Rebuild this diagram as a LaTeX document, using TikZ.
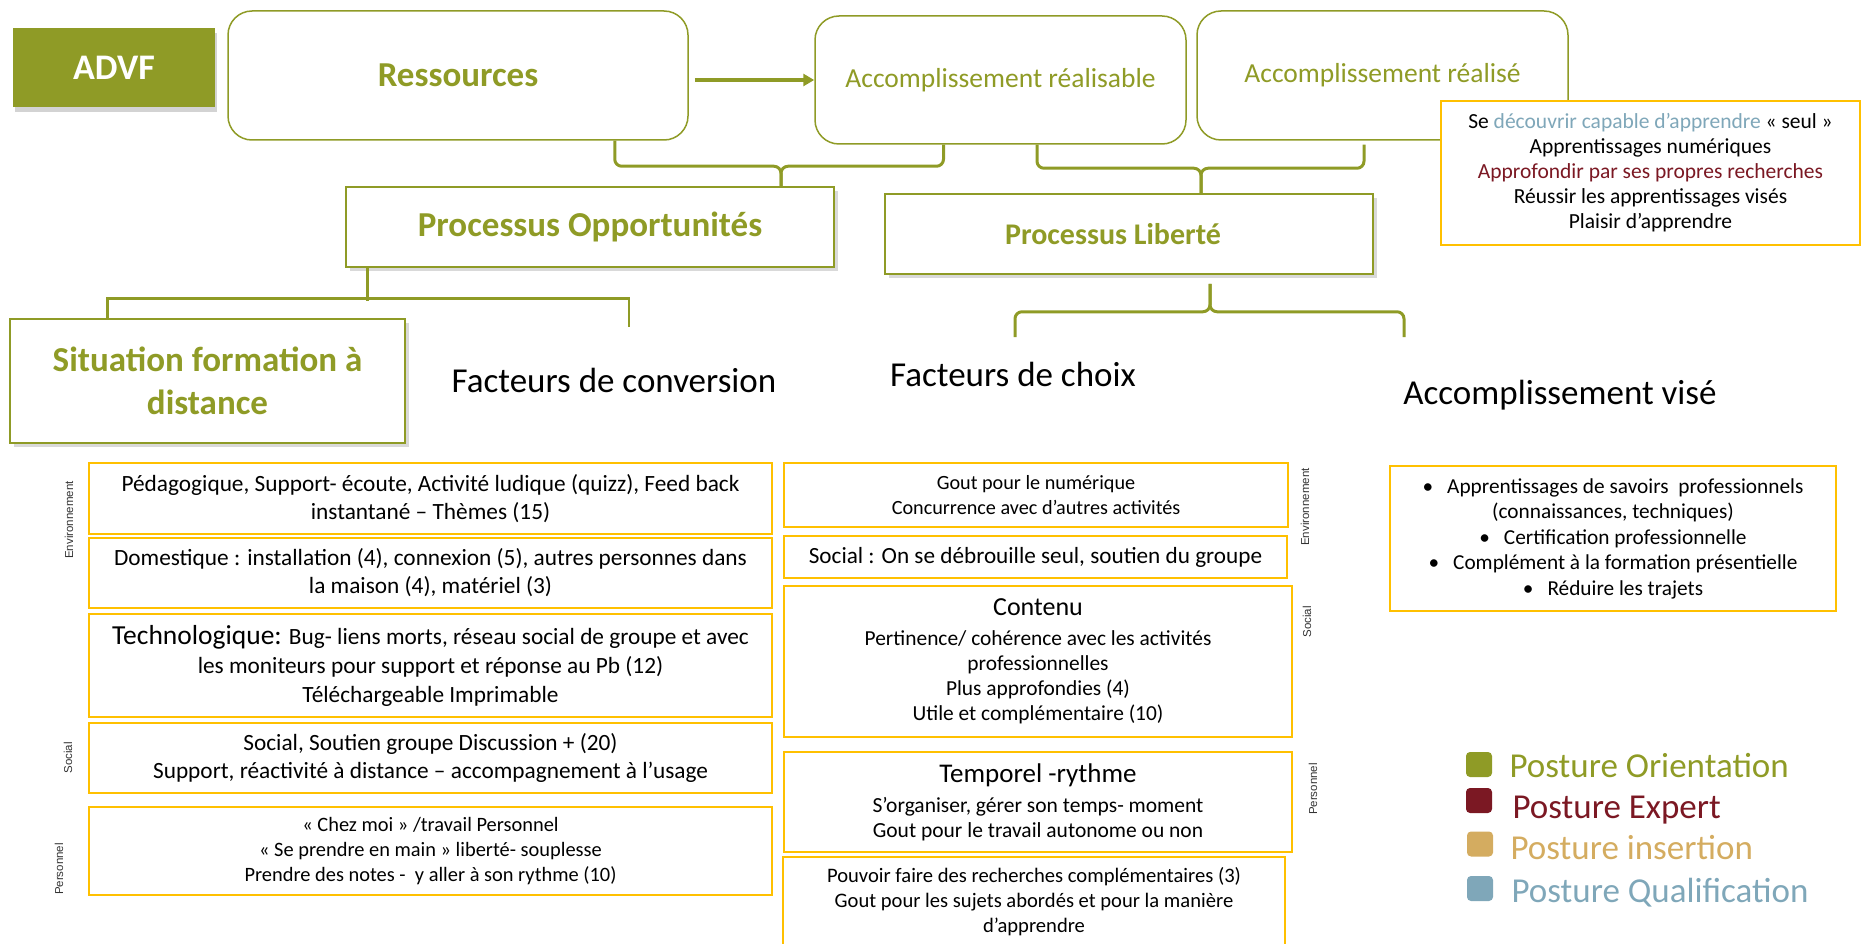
\documentclass[tikz,border=0pt]{standalone}
\usepackage{fontspec}
\setmainfont{Carlito}
\newfontfamily\labfont{Liberation Sans}
\usetikzlibrary{shadows,arrows.meta}
\definecolor{advgreen}{RGB}{143,155,38}
\definecolor{boxyellow}{RGB}{255,192,0}
\definecolor{qualblue}{RGB}{127,167,185}
\definecolor{expertred}{RGB}{123,24,35}
\definecolor{inserttan}{RGB}{212,172,96}
\tikzstyle{advf} = [rectangle, minimum width=202pt, minimum height=79pt, fill=advgreen, text=white, font=\fontsize{36}{40}\selectfont\bfseries, drop shadow={shadow xshift=2pt, shadow yshift=-5pt, opacity=0.35}]
\tikzstyle{capbox} = [rectangle, rounded corners=24pt, draw=advgreen, line width=1.5pt, fill=white, text=advgreen]
\tikzstyle{proc} = [rectangle, draw=advgreen, line width=1.5pt, fill=white, text=advgreen, align=center, font=\fontsize{35}{43}\selectfont\bfseries, drop shadow={shadow xshift=4pt, shadow yshift=-4pt, opacity=0.3}]
\tikzstyle{fact} = [rectangle, draw=boxyellow, line width=2pt, fill=white, align=center, inner sep=0pt]
\tikzstyle{sidelab} = [rotate=90, font=\labfont\fontsize{11.5}{13}\selectfont, text=black!80]
\tikzstyle{heading} = [anchor=base, font=\fontsize{35}{40}\selectfont]
\tikzstyle{brace} = [draw=advgreen, line width=3pt, rounded corners=7pt]
\tikzstyle{bracket} = [draw=advgreen, line width=2.5pt]
\tikzstyle{arrow} = [draw=advgreen, line width=4pt, -{Triangle[length=11pt,width=12pt]}]
\tikzstyle{legbox} = [rectangle, rounded corners=4pt, minimum width=26pt, minimum height=25pt, inner sep=0pt]
\tikzstyle{legtext} = [anchor=base west, font=\fontsize{35}{40}\selectfont]

\begin{document}
\begin{tikzpicture}[x=1pt, y=-1pt]
      \useasboundingbox (0,0) rectangle (1869,944);
      % top row
      \node (advf)[advf] at (114,67.5) {ADVF};
      \node (res)[capbox, minimum width=460pt, minimum height=129pt, font=\fontsize{35}{40}\selectfont\bfseries] at (458,75.5) {Ressources};
      \node (real)[capbox, minimum width=371pt, minimum height=128pt, font=\fontsize{27.5}{32}\selectfont] at (1000.5,80) {Accomplissement réalisable};
      \node (reai)[capbox, minimum width=371pt, minimum height=129pt, font=\fontsize{27.5}{32}\selectfont] at (1382.5,75.5) {Accomplissement réalisé};
      \node (plaisir)[fact, minimum width=419pt, minimum height=144pt, font=\fontsize{21.5}{25}\selectfont] at (1650.5,173) {Se {\color{qualblue}découvrir capable d’apprendre} « seul »\\ Apprentissages numériques\\ {\color{expertred}Approfondir par ses propres recherches}\\ Réussir les apprentissages visés\\ Plaisir d’apprendre};
      \draw[arrow, shorten <=6pt] (res.east |- real.west) -- (real.west);
      % processus
      \node (opp)[proc, minimum width=488pt, minimum height=80pt] at (590,227) {Processus Opportunités};
      \node (lib)[proc, minimum width=488pt, minimum height=80pt, font=\fontsize{30}{36}\selectfont\bfseries] at (1129,234) {\hspace*{-32pt}Processus Liberté};
      \node (sit)[proc, minimum width=395pt, minimum height=124pt] at (207.5,381) {Situation formation à\\distance};
      \draw[brace] ([xshift=-74pt]res.south east) |- ([xshift=191pt,yshift=20pt]opp.north) -- ([xshift=191pt]opp.north);
      \draw[brace] ([xshift=-57pt]real.south) |- ([xshift=191pt,yshift=20pt]opp.north) -- ([xshift=191pt]opp.north);
      \draw[brace] ([xshift=36.5pt]real.south) |- ([xshift=72pt,yshift=25pt]lib.north) -- ([xshift=72pt]lib.north);
      \draw[brace] ([xshift=-18.5pt,yshift=-4pt]reai.south) |- ([xshift=72pt,yshift=25pt]lib.north) -- ([xshift=72pt]lib.north);
      \draw[bracket] ([xshift=22pt]opp.south west) -- ++(0,33);
      \coordinate (convtop) at (629,327);
      \draw[bracket] ([xshift=98pt]sit.north west) |- ++(260,-20) -| (convtop);
      \coordinate (choixtop) at (1015,337);
      \coordinate (visetop) at (1404,337);
      \draw[brace] (choixtop) |- ([xshift=81pt,yshift=-37pt]lib.south) -- ([xshift=81pt,yshift=-9pt]lib.south);
      \draw[brace] (visetop) |- ([xshift=81pt,yshift=-37pt]lib.south) -- ([xshift=81pt,yshift=-9pt]lib.south);
      % headings
      \node (conv)[heading] at (614,392) {Facteurs de conversion};
      \node (choix)[heading] at (1013,386) {Facteurs de choix};
      \node (vise)[heading] at (1560,404) {Accomplissement visé};
      % facteurs de conversion
      \node (pedag)[fact, minimum width=683pt, minimum height=71pt, font=\fontsize{23.3}{28}\selectfont] at (430.5,498.5) {Pédagogique, Support- écoute, Activité ludique (quizz), Feed back\\ instantané – Thèmes (15)};
      \node (domes)[fact, minimum width=683pt, minimum height=70pt, font=\fontsize{23.3}{28}\selectfont] at (430.5,573) {Domestique : installation (4), connexion (5), autres personnes dans\\ la maison (4), matériel (3)};
      \node (techno)[fact, minimum width=683pt, minimum height=103pt, font=\fontsize{23.3}{29}\selectfont] at (430.5,665.5) {{\fontsize{27.5}{29}\selectfont Technologique:} Bug- liens morts, réseau social de groupe et avec\\ les moniteurs pour support et réponse au Pb (12)\\ Téléchargeable Imprimable};
      \node (socconv)[fact, minimum width=683pt, minimum height=70pt, font=\fontsize{23.3}{28}\selectfont] at (430.5,758) {Social, Soutien groupe Discussion + (20)\\ Support, réactivité à distance – accompagnement à l’usage};
      \node (perso)[fact, minimum width=683pt, minimum height=88pt, font=\fontsize{20.4}{25}\selectfont] at (430.5,851) {« Chez moi » /travail Personnel\\ « Se prendre en main » liberté- souplesse\\ Prendre des notes -\ \ y aller à son rythme (10)};
      \node (envl)[sidelab] at (69,520) {Environnement};
      \node (socl)[sidelab] at (68,758) {Social};
      \node (persl)[sidelab] at (59,869) {Personnel};
      % facteurs de choix
      \node (gout)[fact, minimum width=504pt, minimum height=64pt, font=\fontsize{20.2}{25}\selectfont] at (1036,495) {Gout pour le numérique\\ Concurrence avec d’autres activités};
      \node (debr)[fact, minimum width=503pt, minimum height=42pt, font=\fontsize{23.2}{26}\selectfont] at (1035.5,557) {Social : On se débrouille seul, soutien du groupe};
      \node (contenu)[fact, minimum width=508pt, minimum height=151pt, font=\fontsize{21.4}{25}\selectfont] at (1038,661.5) {{\fontsize{26}{30}\selectfont Contenu}\\[5pt] Pertinence/ cohérence avec les activités\\ professionnelles\\ Plus approfondies (4)\\ Utile et complémentaire (10)};
      \node (tempo)[fact, minimum width=508pt, minimum height=100pt, font=\fontsize{21.5}{25}\selectfont] at (1038,802) {{\fontsize{27}{30}\selectfont Temporel -rythme}\\[5pt] S’organiser, gérer son temps- moment\\ Gout pour le travail autonome ou non};
      \node (recher)[fact, minimum width=502pt, minimum height=90pt, font=\fontsize{20.6}{25}\selectfont] at (1034,902) {Pouvoir faire des recherches complémentaires (3)\\ Gout pour les sujets abordés et pour la manière\\ d’apprendre};
      \node (envr)[sidelab] at (1305,507) {Environnement};
      \node (socr)[sidelab] at (1307,622) {Social};
      \node (persr)[sidelab] at (1313,789) {Personnel};
      % accomplissement vise
      \node (visebox)[fact, minimum width=446pt, minimum height=145pt, font=\fontsize{21.3}{25.5}\selectfont] at (1613,538.5) {\textbullet\hspace{14pt}Apprentissages de savoirs\ \ professionnels\\ (connaissances, techniques)\\ \textbullet\hspace{14pt}Certification professionnelle\\ \textbullet\hspace{14pt}Complément à la formation présentielle\\ \textbullet\hspace{14pt}Réduire les trajets};
      % legende
      \node (sqor)[legbox, fill=advgreen] at (1479,764.5) {};
      \node (sqex)[legbox, fill=expertred] at (1479,800.5) {};
      \node (sqin)[legbox, fill=inserttan] at (1480,844) {};
      \node (sqqu)[legbox, fill=qualblue] at (1480,888.5) {};
      \node (txor)[legtext, text=advgreen] at (1506,777) {Posture Orientation};
      \node (txex)[legtext, text=expertred] at (1509,818) {Posture Expert};
      \node (txin)[legtext, text=inserttan] at (1507,859) {Posture insertion};
      \node (txqu)[legtext, text=qualblue] at (1508,902) {Posture Qualification};
\end{tikzpicture}
\end{document}
